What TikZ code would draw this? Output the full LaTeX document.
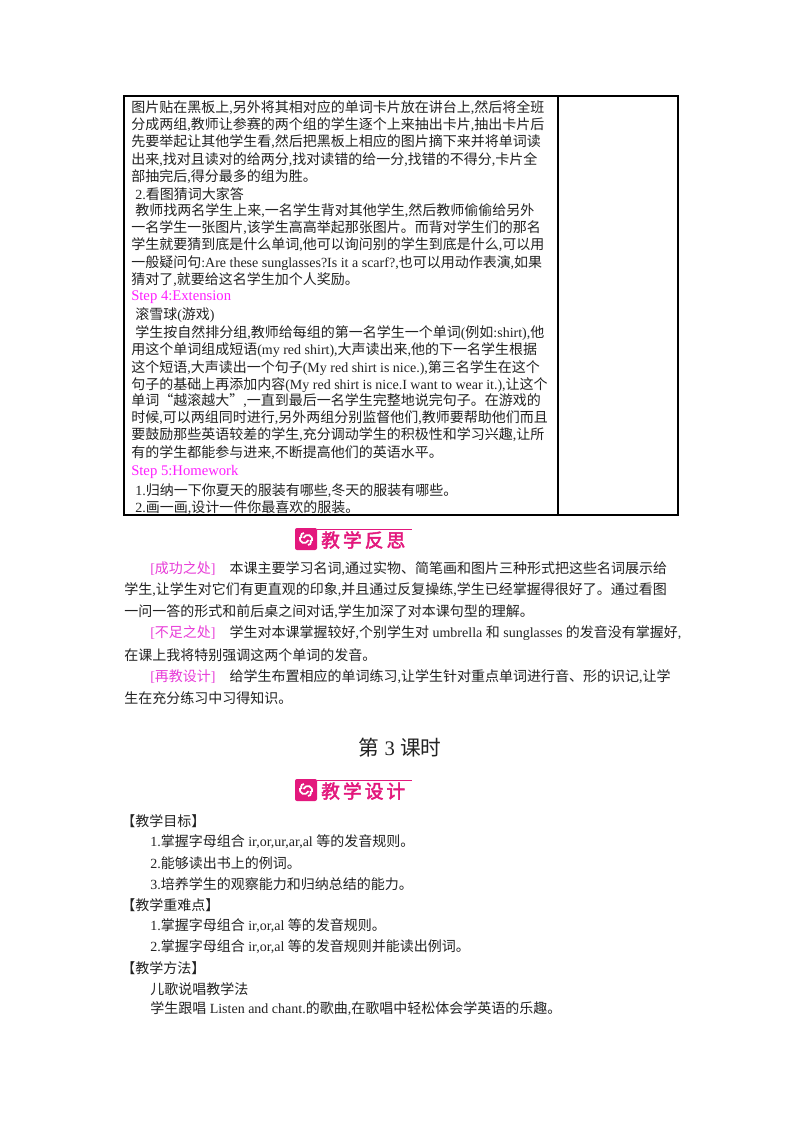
\documentclass[tikz,border=0pt]{standalone}
\usepackage{fontspec}
\setmainfont{Liberation Serif}
\newfontfamily\cjk{Noto Sans CJK SC}
\newfontfamily\cjkb{Noto Sans CJK SC}[FakeBold=2.5]
\newfontfamily\latf{Liberation Serif}
\let\curcjk\cjk
\XeTeXinterchartokenstate=1
\newXeTeXintercharclass\CJKcls
\count255="4E00
\loop \XeTeXcharclass\count255=\CJKcls \ifnum\count255<"9FFF \advance\count255 1 \repeat
\count255="3000
\loop \XeTeXcharclass\count255=\CJKcls \ifnum\count255<"303F \advance\count255 1 \repeat
\XeTeXcharclass"201C=\CJKcls
\XeTeXcharclass"201D=\CJKcls
\XeTeXcharclass"FF08=\CJKcls
\XeTeXcharclass"FF09=\CJKcls
\XeTeXinterchartoks 0 \CJKcls = {\curcjk}
\XeTeXinterchartoks 4095 \CJKcls = {\curcjk}
\XeTeXinterchartoks \CJKcls 0 = {\latf}
\XeTeXinterchartoks \CJKcls 4095 = {\latf}
\definecolor{stepc}{HTML}{FF1EFF}
\definecolor{brc}{HTML}{E83CD8}
\definecolor{bann}{HTML}{E3187D}
\definecolor{txt}{HTML}{222222}
\tikzset{
 ln/.style={anchor=west, inner sep=0pt, font=\fontsize{10.5pt}{12pt}\selectfont, text=txt},
 stp/.style={ln, text=stepc, font=\fontsize{11pt}{12pt}\selectfont},
 grid/.style={line width=0.9pt, draw=black},
}
\newcommand\banner[4]{% name, x, y, text
 \fill[bann, rounded corners=1.5pt] (#2,#3) rectangle ++(22,-22);
 \begin{scope}[shift={(#2+11,#3-11)}, white, line width=1.3pt]
  \draw (-6,-2) arc[start angle=200, end angle=20, radius=4.5];
  \draw (6,2) arc[start angle=20, end angle=-160, radius=4.5];
  \draw (-2,-6) arc[start angle=270, end angle=140, radius=3];
  \draw (2,6) arc[start angle=90, end angle=-40, radius=3];
 \end{scope}
 \draw[bann, line width=0.6pt] (#2+22,#3-21) -- ++(95,0);
 \node[anchor=west, inner sep=0pt, text=bann, font=\let\curcjk\cjkb\cjkb\fontsize{14pt}{16pt}\selectfont] (#1) at (#2+26,#3-10) {#4};
}
\begin{document}
\begin{tikzpicture}[x=0.75pt,y=-0.75pt]
\useasboundingbox (0,0) rectangle (800,1132);
\fill[white] (0,0) rectangle (800,1132);
% table
\draw[grid] (124,96) rectangle (678,515);
\draw[grid] (558,96) -- (558,515);
\node[ln] (t1) at (131,108) {图片贴在黑板上,另外将其相对应的单词卡片放在讲台上,然后将全班};
\node[ln] (t2) at (131,125) {分成两组,教师让参赛的两个组的学生逐个上来抽出卡片,抽出卡片后};
\node[ln] (t3) at (131,142) {先要举起让其他学生看,然后把黑板上相应的图片摘下来并将单词读};
\node[ln] (t4) at (131,160) {出来,找对且读对的给两分,找对读错的给一分,找错的不得分,卡片全};
\node[ln] (t5) at (131,177) {部抽完后,得分最多的组为胜。};
\node[ln] (t6) at (135,194) {2.看图猜词大家答};
\node[ln] (t7) at (135,211) {教师找两名学生上来,一名学生背对其他学生,然后教师偷偷给另外};
\node[ln] (t8) at (131,228) {一名学生一张图片,该学生高高举起那张图片。而背对学生们的那名};
\node[ln] (t9) at (131,245) {学生就要猜到底是什么单词,他可以询问别的学生到底是什么,可以用};
\node[ln] (t10) at (131,263) {一般疑问句:Are these sunglasses?Is it a scarf?,也可以用动作表演,如果};
\node[ln] (t11) at (131,280) {猜对了,就要给这名学生加个人奖励。};
\node[stp] (s4) at (131,297) {Step 4:Extension};
\node[ln] (t12) at (135,315) {滚雪球(游戏)};
\node[ln] (t13) at (135,333) {学生按自然排分组,教师给每组的第一名学生一个单词(例如:shirt),他};
\node[ln] (t14) at (131,350) {用这个单词组成短语(my red shirt),大声读出来,他的下一名学生根据};
\node[ln] (t15) at (131,368) {这个短语,大声读出一个句子(My red shirt is nice.),第三名学生在这个};
\node[ln] (t16) at (131,385) {句子的基础上再添加内容(My red shirt is nice.I want to wear it.),让这个};
\node[ln] (t17) at (131,401) {单词“越滚越大”,一直到最后一名学生完整地说完句子。在游戏的};
\node[ln] (t18) at (131,418) {时候,可以两组同时进行,另外两组分别监督他们,教师要帮助他们而且};
\node[ln] (t19) at (131,435) {要鼓励那些英语较差的学生,充分调动学生的积极性和学习兴趣,让所};
\node[ln] (t20) at (131,453) {有的学生都能参与进来,不断提高他们的英语水平。};
\node[stp] (s5) at (131,472) {Step 5:Homework};
\node[ln] (t21) at (135,491) {1.归纳一下你夏天的服装有哪些,冬天的服装有哪些。};
\node[ln] (t22) at (135,508) {2.画一画,设计一件你最喜欢的服装。};
% reflection
\banner{b1}{295}{550}{教\,学\,反\,思}
\node[ln] (r1) at (150,569) {\textcolor{brc}{[成功之处]}\quad 本课主要学习名词,通过实物、简笔画和图片三种形式把这些名词展示给};
\node[ln] (r2) at (124,590) {学生,让学生对它们有更直观的印象,并且通过反复操练,学生已经掌握得很好了。通过看图};
\node[ln] (r3) at (124,612) {一问一答的形式和前后桌之间对话,学生加深了对本课句型的理解。};
\node[ln] (r4) at (150,633) {\textcolor{brc}{[不足之处]}\quad 学生对本课掌握较好,个别学生对 umbrella 和 sunglasses 的发音没有掌握好,};
\node[ln] (r5) at (124,655) {在课上我将特别强调这两个单词的发音。};
\node[ln] (r6) at (150,677) {\textcolor{brc}{[再教设计]}\quad 给学生布置相应的单词练习,让学生针对重点单词进行音、形的识记,让学};
\node[ln] (r7) at (124,698) {生在充分练习中习得知识。};
% lesson 3
\node[anchor=center, inner sep=0pt, text=txt, font=\fontsize{15.5pt}{18pt}\selectfont] (h3) at (400,748) {第 3 课时};
\banner{b2}{295}{801}{教\,学\,设\,计}
\node[ln] (g0) at (121,821) {【教学目标】};
\node[ln] (g1) at (150,842) {1.掌握字母组合 ir,or,ur,ar,al 等的发音规则。};
\node[ln] (g2) at (150,863) {2.能够读出书上的例词。};
\node[ln] (g3) at (150,884) {3.培养学生的观察能力和归纳总结的能力。};
\node[ln] (k0) at (121,905) {【教学重难点】};
\node[ln] (k1) at (150,926) {1.掌握字母组合 ir,or,al 等的发音规则。};
\node[ln] (k2) at (150,947) {2.掌握字母组合 ir,or,al 等的发音规则并能读出例词。};
\node[ln] (m0) at (121,968) {【教学方法】};
\node[ln] (m1) at (150,989) {儿歌说唱教学法};
\node[ln] (m2) at (150,1009) {学生跟唱 Listen and chant.的歌曲,在歌唱中轻松体会学英语的乐趣。};
\end{tikzpicture}
\end{document}
